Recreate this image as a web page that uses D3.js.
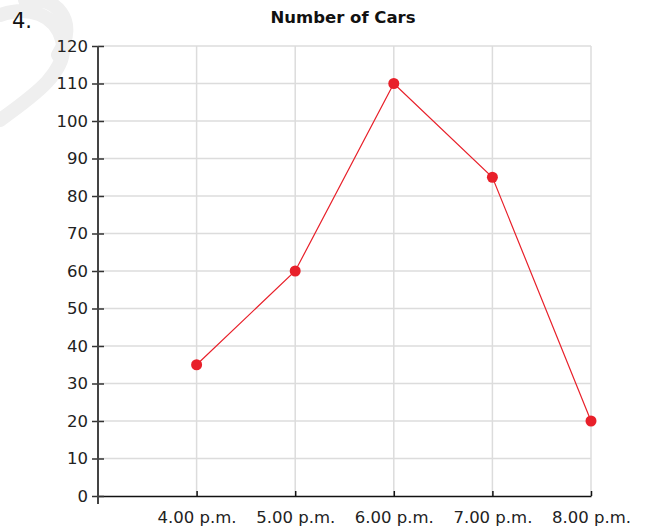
<!DOCTYPE html>
<html>
<head>
<meta charset="utf-8">
<script src="https://cdn.jsdelivr.net/npm/d3@7"></script>
<style>
  html, body { margin: 0; padding: 0; background: #fff; }
  svg { display: block; font-family: "DejaVu Sans", sans-serif; }
</style>
</head>
<body>
<svg id="chart"></svg>
<script>
// Number of Cars — line chart with dots
const width = 647, height = 527;
const FONT = "DejaVu Sans, sans-serif";
const LABEL_SIZE = 16.5;

const times = ["4.00 p.m.", "5.00 p.m.", "6.00 p.m.", "7.00 p.m.", "8.00 p.m."];
const cars = [35, 60, 110, 85, 20];
const yTicks = [0, 10, 20, 30, 40, 50, 60, 70, 80, 90, 100, 110, 120];

const margin = { left: 98, right: 56, top: 46, bottom: 31 };
const plotW = width - margin.left - margin.right;
const plotH = height - margin.top - margin.bottom;

const svg = d3.select("#chart").attr("width", width).attr("height", height);

// x: index 0..4 maps to tick centres, with one empty slot left of the first
const x = d3.scaleLinear().domain([-1, times.length - 1]).range([margin.left, margin.left + plotW]);
const y = d3.scaleLinear().domain([0, 120]).range([margin.top + plotH, margin.top]);

// faint watermark swirl
svg.append("path")
  .attr("d", "M0,120 C35,95 70,70 62,40 C55,15 30,5 0,15 M25,0 C55,-5 80,20 58,55")
  .attr("fill", "none").attr("stroke", "#efefef").attr("stroke-width", 14)
  .attr("stroke-linecap", "round");

// grid
const grid = svg.append("g").attr("stroke", "#dcdcdc").attr("stroke-width", 1.5);
grid.selectAll("line.h").data(yTicks.filter(d => d > 0)).join("line")
  .attr("class", "h")
  .attr("x1", margin.left).attr("x2", x(times.length - 1))
  .attr("y1", d => y(d)).attr("y2", d => y(d));
grid.selectAll("line.v").data(times).join("line")
  .attr("class", "v")
  .attr("x1", (d, i) => x(i)).attr("x2", (d, i) => x(i))
  .attr("y1", y(120)).attr("y2", y(0));

// x axis
const xAxis = d3.axisBottom(x)
  .tickValues(d3.range(times.length))
  .tickFormat(i => times[i])
  .tickSizeInner(-5).tickSizeOuter(0).tickPadding(15);
svg.append("g")
  .attr("transform", `translate(0,${y(0)})`)
  .call(xAxis)
  .call(g => g.select(".domain").attr("stroke", "#111").attr("stroke-width", 1.5))
  .call(g => g.selectAll(".tick line").attr("stroke", "#111").attr("stroke-width", 1.5))
  .call(g => g.selectAll("text").attr("font-size", LABEL_SIZE).attr("fill", "#222").attr("font-family", FONT));

// y axis (ticks cross the line)
const yAxis = d3.axisLeft(y).tickValues(yTicks).tickSize(6).tickPadding(4);
const yg = svg.append("g").attr("transform", `translate(${margin.left},0)`).call(yAxis);
yg.select(".domain").remove();
yg.selectAll(".tick line").attr("x2", 6).attr("x1", -6).attr("stroke", "#333").attr("stroke-width", 1.5);
yg.selectAll("text").attr("font-size", LABEL_SIZE).attr("fill", "#222").attr("font-family", FONT);
yg.append("line")
  .attr("y1", y(120)).attr("y2", y(0) + 8)
  .attr("stroke", "#444").attr("stroke-width", 2);

// line + points
svg.append("path")
  .datum(cars)
  .attr("fill", "none").attr("stroke", "#e8202a").attr("stroke-width", 1.2)
  .attr("d", d3.line().x((d, i) => x(i)).y(d => y(d)));
svg.selectAll("circle.pt").data(cars).join("circle")
  .attr("class", "pt")
  .attr("cx", (d, i) => x(i)).attr("cy", d => y(d)).attr("r", 5.5)
  .attr("fill", "#e8202a");

// title and number
svg.append("text")
  .attr("x", 343).attr("y", 23).attr("text-anchor", "middle")
  .attr("font-size", 16.5).attr("font-weight", "bold").attr("fill", "#111")
  .attr("font-family", FONT)
  .text("Number of Cars");
svg.append("text")
  .attr("x", 12).attr("y", 28)
  .attr("font-size", 21).attr("fill", "#111")
  .attr("font-family", FONT)
  .text("4.");
</script>
</body>
</html>
